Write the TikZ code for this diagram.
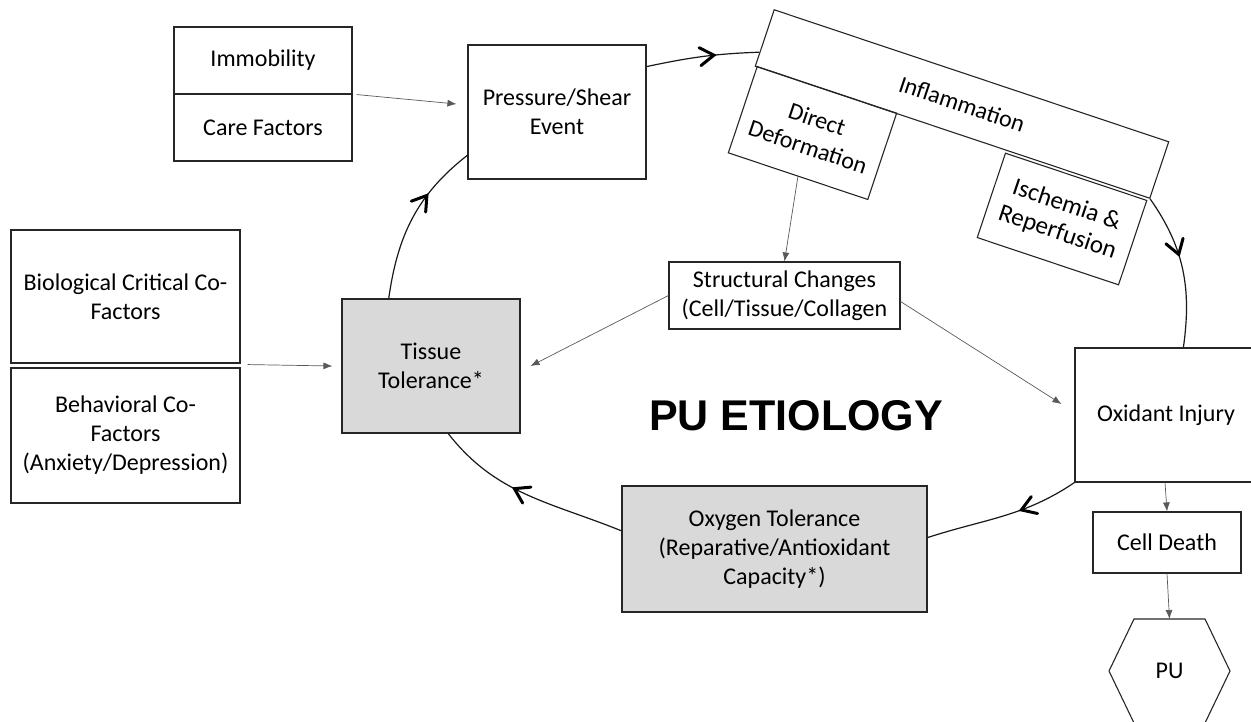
\documentclass[tikz,border=0pt]{standalone}
\usepackage{fontspec}
\setmainfont{Carlito}
\newfontfamily\arialb{Liberation Sans}
\usetikzlibrary{arrows.meta,calc,decorations.markings}
\begin{document}
\begin{tikzpicture}[x=1pt,y=1pt,
  box/.style={draw=black!85, line width=1.1pt, align=center, inner sep=0pt, font=\fontsize{24}{29}\selectfont},
  gbox/.style={box, fill=black!15},
  hexline/.style={draw=black!85, line width=1.1pt},
  cyc/.style={line width=1.2pt, black!90},
  link/.style={line width=0.7pt, black!65, -{Latex[length=9pt,width=7pt]}},
  mk/.style={decoration={markings, mark=at position #1 with {\draw[line width=3pt, line cap=round, line join=miter, black] (-14pt,9pt) -- (0pt,0pt) -- (-14pt,-9pt);}}, postaction={decorate}}
]
\useasboundingbox (0,0) rectangle (1251,-721);

% boxes
\node[box, minimum width=178, minimum height=67] (imm) at (263,-60.5) {Immobility};
\node[box, minimum width=178, minimum height=67] (care) at (263,-127.5) {Care Factors};
\node[box, minimum width=178, minimum height=134] (pse) at (557,-112) {Pressure/Shear\\Event};
\node[box, minimum width=416, minimum height=59.5, rotate=-18.5] (inf) at (962,-104) {Inflammation};
\node[box, minimum width=147, minimum height=91, rotate=-18.5] (dd) at (812.5,-133) {Direct\\Deformation};
\node[box, minimum width=149, minimum height=89, rotate=-18.5, font=\fontsize{25}{29}\selectfont] (ir) at (1062,-219) {Ischemia \&\\Reperfusion};
\node[box, minimum width=231, minimum height=67] (st) at (784.5,-295.5) {Structural Changes\\(Cell/Tissue/Collagen};
\node[box, minimum width=229, minimum height=133] (bio) at (125.5,-296.5) {Biological Critical Co-\\Factors};
\node[box, minimum width=229, minimum height=135] (beh) at (125.5,-435.5) {Behavioral Co-\\Factors\\(Anxiety/Depression)};
\node[gbox, minimum width=178, minimum height=134] (tis) at (431,-366) {Tissue\\Tolerance*};
\node[box, minimum width=182, minimum height=134] (oxi) at (1166,-415) {Oxidant Injury};
\node[gbox, minimum width=305, minimum height=126] (oxy) at (774.5,-549) {Oxygen Tolerance\\(Reparative/Antioxidant\\Capacity*)};
\node[box, minimum width=148, minimum height=61] (cd) at (1167,-542.5) {Cell Death};
\node[font=\fontsize{24}{29}\selectfont, inner sep=0pt] (pu) at (1169.5,-671) {PU};
\draw[hexline] ($(pu.center)+(-35.5,52)$) -- ++(71,0) -- ++(25,-52) -- ++(-25,-52) -- ++(-71,0) -- ++(-25,52) -- cycle;
\coordinate (hextop) at ($(pu.center)+(0,52)$);
\node[font=\arialb\bfseries\fontsize{43}{51}\selectfont, inner sep=0pt] (title) at (796,-416) {PU ETIOLOGY};

% cycle
\draw[cyc, mk=0.66] ($(tis.north west)!0.264!(tis.north east)$) to[out=82,in=218] ($(pse.south west)!0.18!(pse.north west)$);
\draw[cyc, mk=0.6] ($(pse.north east)!0.164!(pse.south east)$) to[out=12,in=182] ($(inf.south west)!0.25!(inf.north west)$);
\draw[cyc, mk=0.4] (inf.south east) to[out=-55,in=82] ($(oxi.north west)!0.595!(oxi.north east)$);
\draw[cyc, mk=0.38] (oxi.south west) to[out=214,in=18] ($(oxy.north east)!0.41!(oxy.south east)$);
\draw[cyc, mk=0.57] ($(oxy.north west)!0.357!(oxy.south west)$) to[out=158,in=-52] ($(tis.south west)!0.596!(tis.south east)$);

% links
\draw[link] ([xshift=4]imm.south east) -- ([xshift=-11,yshift=8]pse.west);
\draw[link] ([xshift=7,yshift=-1]bio.south east) -- ([xshift=-9]tis.west);
\draw[link] (dd.south) -- (st.north);
\draw[link] (st.west) -- ([xshift=10]tis.east);
\draw[link] ([yshift=-6]st.east) -- ([xshift=-13,yshift=11]oxi.west);
\draw[link] ([xshift=-1]oxi.south) -- (cd.north);
\draw[link] (cd.south) -- (hextop);
\end{tikzpicture}
\end{document}
